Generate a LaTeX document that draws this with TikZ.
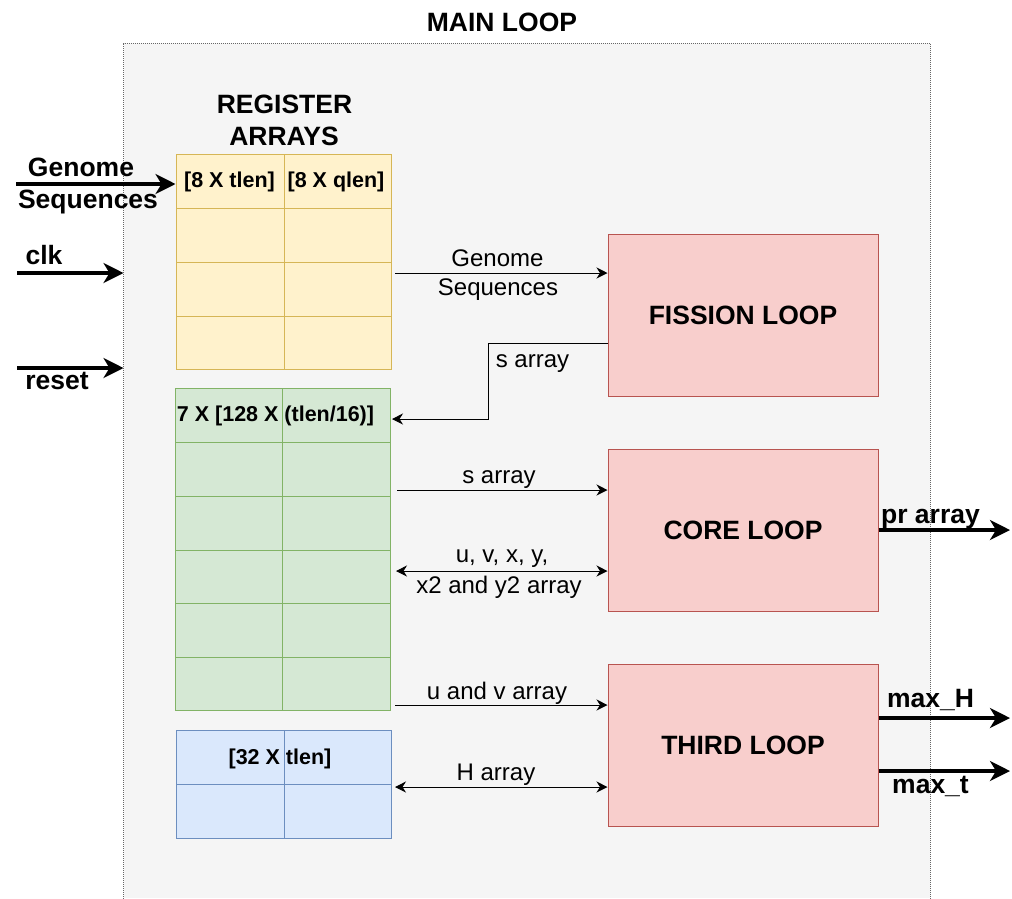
\documentclass[tikz,border=0pt]{standalone}
\usepackage{fontspec}
\setmainfont{Liberation Sans}
\usetikzlibrary{positioning,arrows.meta}

\begin{document}
\begin{tikzpicture}[x=1pt,y=-1pt, line width=1pt,
    mainbox/.style={fill=mainfill, draw=none, minimum width=806pt, minimum height=854pt, inner sep=0pt},
    regbox/.style={minimum width=215pt, inner sep=0pt},
    loopbox/.style={draw=loopline, fill=loopfill, minimum width=270pt, minimum height=162pt, inner sep=0pt, font=\fontsize{26.5}{30}\selectfont\bfseries},
    boldlbl/.style={anchor=base, inner sep=0pt, font=\fontsize{26.5}{30}\selectfont\bfseries},
    celllbl/.style={anchor=base, inner sep=0pt, font=\fontsize{21.5}{26}\selectfont\bfseries},
    arrlbl/.style={anchor=base, inner sep=0pt, font=\fontsize{24}{28}\selectfont},
    thinarrow/.style={-{Stealth[length=11pt,width=11pt,inset=3.5pt]}, line width=1pt},
    bothwayarrow/.style={{Stealth[length=11pt,width=11pt,inset=3.5pt]}-{Stealth[length=11pt,width=11pt,inset=3.5pt]}, line width=1pt},
    bigarrow/.style={-{Stealth[length=20pt,width=20pt,inset=6pt]}, line width=3.3pt}]
        \definecolor{mainfill}{HTML}{F5F5F5}
        \definecolor{mainline}{HTML}{666666}
        \definecolor{yellowfill}{HTML}{FFF2CC}
        \definecolor{yellowline}{HTML}{D6B656}
        \definecolor{greenfill}{HTML}{D5E8D4}
        \definecolor{greenline}{HTML}{82B366}
        \definecolor{bluefill}{HTML}{DAE8FC}
        \definecolor{blueline}{HTML}{6C8EBF}
        \definecolor{loopfill}{HTML}{F8CECC}
        \definecolor{loopline}{HTML}{B85450}

        \useasboundingbox (0,0) rectangle (1012,898);

        % Main loop background
        \node[mainbox] (mainloop) at (527,471) {};
        \draw[mainline, line width=0.8pt, dash pattern=on 1pt off 1pt] (mainloop.south west) |- (mainloop.north east) -- (mainloop.south east);
        \node[boldlbl] (maintitle) at (502,31.5) {MAIN LOOP};

        % Register arrays
        \node[boldlbl] (regtop) at (284.5,113) {REGISTER};
        \node[boldlbl] (regbot) at (284,145) {ARRAYS};

        \node[regbox, draw=yellowline, fill=yellowfill, minimum height=215pt] (yellow) at (283.5,261.5) {};
        \draw[yellowline] (284,154) -- (284,369) (176,208) -- (391,208) (176,262) -- (391,262) (176,316) -- (391,316);
        \node[celllbl] (tlen) at (229.5,187) {[8 X tlen]};
        \node[celllbl] (qlen) at (336,187) {[8 X qlen]};

        \node[regbox, draw=greenline, fill=greenfill, minimum height=322pt] (green) at (282.5,549) {};
        \draw[greenline] (282,388) -- (282,710) (175,442) -- (390,442) (175,496) -- (390,496) (175,550) -- (390,550) (175,603) -- (390,603) (175,657) -- (390,657);
        \node[celllbl] (slen) at (275.5,421) {7 X [128 X (tlen/16)]};

        \node[regbox, draw=blueline, fill=bluefill, minimum height=108pt] (blue) at (283.5,784) {};
        \draw[blueline] (284,730) -- (284,838) (176,784) -- (391,784);
        \node[celllbl] (hlen) at (280,764) {[32 X tlen]};

        % Loops
        \node[loopbox] (fission) at (743,315) {FISSION LOOP};
        \node[loopbox] (core) at (743,530) {CORE LOOP};
        \node[loopbox] (third) at (743,745.5) {THIRD LOOP};

        % Inputs
        \coordinate (gsrc) at (16,184);
        \draw[bigarrow] (gsrc) -- (gsrc -| yellow.west);
        \node[boldlbl] (gtop) at (81,176) {Genome};
        \node[boldlbl] (gbot) at (88,208) {Sequences};

        \coordinate (clksrc) at (17,273);
        \draw[bigarrow] (clksrc) -- (clksrc -| mainloop.west);
        \node[boldlbl] (clklbl) at (44,264) {clk};

        \coordinate (rstsrc) at (17,368);
        \draw[bigarrow] (rstsrc) -- (rstsrc -| mainloop.west);
        \node[boldlbl] (rstlbl) at (57,389) {reset};

        % Arrays to loops
        \coordinate (gseq) at (395,273);
        \draw[thinarrow] (gseq) -- (gseq -| fission.west);
        \node[arrlbl] (gseqtop) at (497.5,266) {Genome};
        \node[arrlbl] (gseqbot) at (498,295) {Sequences};

        \coordinate (sbend) at (488,343);
        \coordinate (sback) at (392,419);
        \draw[thinarrow] (sbend -| fission.west) -- (sbend) |- (sback);
        \node[arrlbl] (sbacklbl) at (532.5,367) {s array};

        \coordinate (sfwd) at (397,490);
        \draw[thinarrow] (sfwd) -- (sfwd -| core.west);
        \node[arrlbl] (sfwdlbl) at (499,483) {s array};

        \coordinate (uvxy) at (396,571);
        \draw[bothwayarrow] (uvxy) -- (uvxy -| core.west);
        \node[arrlbl] (uvxytop) at (502,562) {u, v, x, y,};
        \node[arrlbl] (uvxybot) at (499,593) {x2 and y2 array};

        \coordinate (uv) at (395,705);
        \draw[thinarrow] (uv) -- (uv -| third.west);
        \node[arrlbl] (uvlbl) at (497,699) {u and v array};

        \coordinate (harr) at (395,787);
        \draw[bothwayarrow] (harr) -- (harr -| third.west);
        \node[arrlbl] (harrlbl) at (496,780) {H array};

        % Outputs
        \coordinate (prout) at (1010,530);
        \draw[bigarrow] (core.east |- prout) -- (prout);
        \node[boldlbl] (prlbl) at (930.5,523) {pr array};

        \coordinate (maxhout) at (1010,718);
        \draw[bigarrow] (third.east |- maxhout) -- (maxhout);
        \node[boldlbl] (maxhlbl) at (930.5,707) {max\_H};

        \coordinate (maxtout) at (1010,771);
        \draw[bigarrow] (third.east |- maxtout) -- (maxtout);
        \node[boldlbl] (maxtlbl) at (930.5,793) {max\_t};
    \end{tikzpicture}
\end{document}
